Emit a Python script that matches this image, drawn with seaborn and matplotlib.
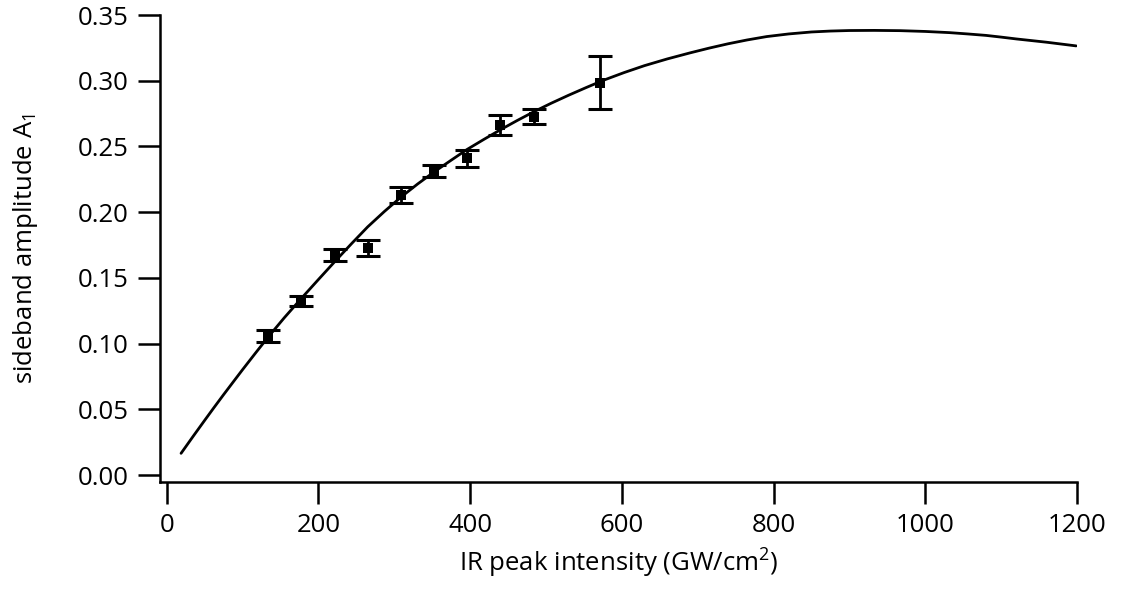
import numpy as np
import pandas as pd
import matplotlib
matplotlib.use("Agg")
import matplotlib.pyplot as plt
import seaborn as sns

# measured data points
intensity = [134, 177, 222, 265, 309, 353, 396, 440, 484, 571]
amplitude = [0.106, 0.1324, 0.1674, 0.1725, 0.2131, 0.2314, 0.2410, 0.2664, 0.2727, 0.2986]
amp_err = [0.0047, 0.0036, 0.0048, 0.0060, 0.0058, 0.0047, 0.0063, 0.0074, 0.0057, 0.0202]

# fit curve
fit_x = [19, 35, 50, 62, 75, 88, 100, 117, 134, 155, 177, 200, 222, 244, 265, 287, 309,
         331, 353, 375, 396, 418, 440, 462, 484, 507, 530, 553, 576, 603, 630, 660,
         690, 715, 740, 765, 791, 820, 850, 875, 900, 933, 967, 1000, 1032, 1056, 1080,
         1100, 1120, 1160, 1199]
fit_y = [0.0165, 0.0295, 0.0415, 0.0510, 0.0611, 0.0710, 0.0801, 0.0927, 0.1051, 0.1196,
         0.1340, 0.1487, 0.1626, 0.1762, 0.1888, 0.2005, 0.2115, 0.2215, 0.2308, 0.2395,
         0.2477, 0.2553, 0.2627, 0.2697, 0.2764, 0.2829, 0.289, 0.2948, 0.3004, 0.3062,
         0.3115, 0.3166, 0.3212, 0.3248, 0.3281, 0.331, 0.3336, 0.3356, 0.3371, 0.3378,
         0.3382, 0.3383, 0.3381, 0.3375, 0.3366, 0.3356, 0.3345, 0.3332, 0.3318, 0.3293,
         0.3265]

x_ticks = [0, 200, 400, 600, 800, 1000, 1200]
y_ticks = [0.00, 0.05, 0.10, 0.15, 0.20, 0.25, 0.30, 0.35]

sns.set_style("ticks")
plt.rcParams["font.family"] = ["Open Sans", "DejaVu Sans"]
plt.rcParams["mathtext.fontset"] = "custom"
plt.rcParams["mathtext.rm"] = "Open Sans"
plt.rcParams["mathtext.it"] = "Open Sans"
plt.rcParams["text.color"] = "black"
plt.rcParams["axes.labelcolor"] = "black"
plt.rcParams["xtick.color"] = "black"
plt.rcParams["ytick.color"] = "black"

fig = plt.figure(figsize=(11.21, 5.89), dpi=100)
ax = fig.add_axes([0.1427, 0.1817, 0.9607 - 0.1427, 0.9745 - 0.1817])

fit_df = pd.DataFrame({"x": fit_x, "y": fit_y})
sns.lineplot(data=fit_df, x="x", y="y", ax=ax, color="black", linewidth=2.0, sort=False)

pts = pd.DataFrame({"x": intensity, "y": amplitude, "e": amp_err})
ax.errorbar(pts["x"], pts["y"], yerr=pts["e"], fmt="none", ecolor="black",
            elinewidth=2.0, capsize=8.5, capthick=2.2, zorder=4)
sns.scatterplot(data=pts, x="x", y="y", ax=ax, marker="s", s=55, color="black",
                edgecolor="black", linewidth=0, zorder=5)

ax.set_xlim(-8.8, 1200)
ax.set_ylim(-0.0053, 0.35)
ax.set_xticks(x_ticks)
ax.set_yticks(y_ticks)
ax.set_xticklabels([str(v) for v in x_ticks])
ax.set_yticklabels([f"{v:.2f}" for v in y_ticks])

for s in ["top", "right"]:
    ax.spines[s].set_visible(False)
for s in ["left", "bottom"]:
    ax.spines[s].set_linewidth(1.8)
    ax.spines[s].set_color("black")

ax.tick_params(axis="both", direction="out", length=15.5, width=1.8, colors="black",
               labelcolor="black", labelsize=18.5, pad=7)

ax.set_xlabel(r"IR peak intensity (GW/cm$^2$)", fontsize=18.5, labelpad=6, color="black")
ax.set_ylabel(r"sideband amplitude A$_1$", fontsize=18.5, color="black")
ax.yaxis.set_label_coords(-0.131, 0.5)

fig.savefig("out.png", dpi=100)
